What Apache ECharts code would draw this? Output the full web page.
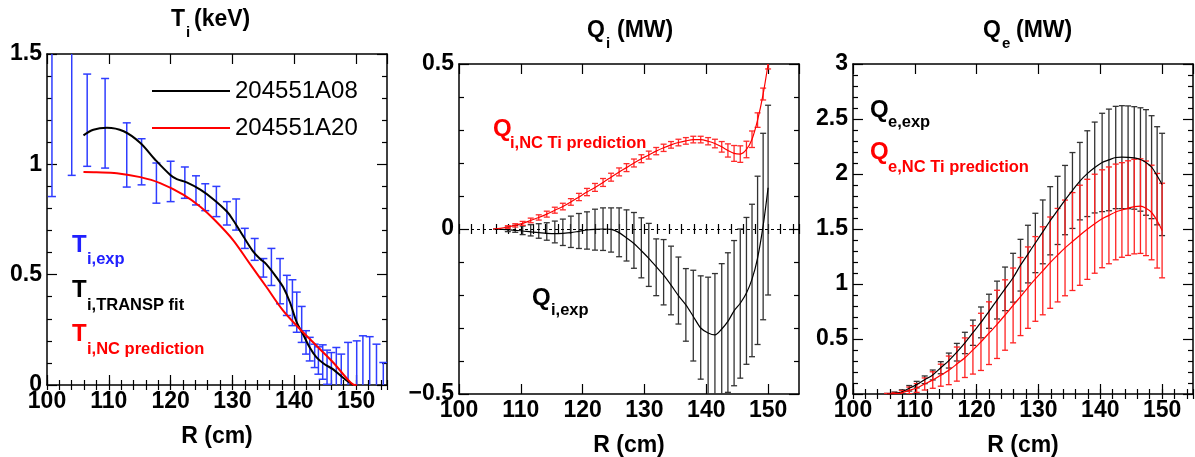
<!DOCTYPE html>
<html><head><meta charset="utf-8">
<script src="https://cdn.jsdelivr.net/npm/echarts@6/dist/echarts.min.js"></script>
<style>html,body{margin:0;padding:0;background:#fff}#c{width:1195px;height:457px}</style>
</head><body><div id="c"></div>
<script>
// ---------- Panel 1: T_i (keV) ----------
const tiExpR  = [100.8,104.0,106.5,109.4,112.9,115.3,117.7,120.0,122.3,124.1,125.6,127.4,129.1,130.6,132.0,133.6,135.0,136.3,137.7,138.8,139.7,140.4,141.2,141.9,142.5,143.3,143.9,144.6,145.3,146.0,146.8,147.6,148.7,150.1,151.1,152.2,153.3,154.4];
const tiExpHi = [2.0,2.0,1.409,1.389,1.188,1.116,1.006,1.014,0.988,0.948,0.912,0.900,0.831,0.843,0.710,0.664,0.573,0.619,0.573,0.497,0.477,0.421,0.356,0.246,0.216,0.185,0.173,0.182,0.158,0.147,0.170,0.140,0.193,0.200,0.223,0.219,0.185,0.102];
const tiExpLo = [0.854,0.950,0.991,0.983,0.897,0.907,0.824,0.831,0.846,0.816,0.790,0.763,0.725,0.702,0.619,0.565,0.489,0.451,0.368,0.315,0.269,0.239,0.193,0.140,0.109,0.079,0.049,0.026,0.003,-0.05,-0.03,-0.1,-0.1,-0.15,-0.1,-0.1,-0.1,-0.1];
const tiFitR = [105.9,107.5,109.7,112.4,115.1,117.5,119.9,121.0,122.6,124.8,126.9,129.1,130.1,131.8,133.4,134.4,135.5,137.1,138.2,139.3,140.4,141.4,142.5,143.6,144.9,146.3,147.9,149.5];
const tiFit  = [1.131,1.157,1.166,1.150,1.097,1.021,0.953,0.933,0.918,0.885,0.842,0.786,0.748,0.672,0.603,0.573,0.547,0.489,0.444,0.375,0.284,0.231,0.170,0.125,0.094,0.071,0.033,0.0];
const tiNcR  = [105.9,108.0,111.3,115.1,118.3,122.1,124.8,127.4,130.1,132.8,135.5,138.2,140.9,143.6,146.3,148.4,149.5,150.1];
const tiNc   = [0.965,0.964,0.960,0.942,0.915,0.862,0.808,0.740,0.657,0.550,0.444,0.337,0.254,0.178,0.102,0.033,0.003,0.0];

// ---------- Shared radial grid of panels 2 and 3 ----------
const rGrid = [105.5,106.7,107.9,109.1,110.3,111.6,112.9,114.2,115.5,116.8,118.1,119.4,120.7,122.0,123.3,124.6,125.9,127.1,128.3,129.5,130.7,131.9,133.1,134.3,135.5,136.7,137.9,139.1,140.3,141.4,142.5,143.5,144.5,145.5,146.5,147.4,148.3,149.2,150.0];

// ---------- Panel 2: Q_i (MW) ----------
const qiNC    = [0.000,0.002,0.006,0.011,0.017,0.026,0.035,0.045,0.057,0.068,0.082,0.097,0.112,0.126,0.141,0.157,0.173,0.186,0.200,0.213,0.224,0.236,0.246,0.255,0.262,0.267,0.271,0.271,0.266,0.259,0.249,0.238,0.229,0.227,0.241,0.272,0.330,0.409,0.500];
const qiNCErr = [null,null,0.004,0.005,0.006,0.007,0.008,0.009,0.009,0.010,0.010,0.011,0.011,0.012,0.012,0.012,0.012,0.012,0.012,0.012,0.012,0.011,0.011,0.010,0.010,0.010,0.010,0.010,0.011,0.013,0.016,0.020,0.024,0.025,0.025,0.025,0.022,0.018,0.015];
const qiExp   = [0.000,-0.001,-0.002,-0.004,-0.006,-0.009,-0.011,-0.013,-0.014,-0.013,-0.011,-0.007,-0.003,-0.001,0.000,-0.001,-0.011,-0.027,-0.044,-0.066,-0.089,-0.114,-0.140,-0.170,-0.202,-0.230,-0.265,-0.300,-0.315,-0.321,-0.303,-0.280,-0.248,-0.225,-0.194,-0.152,-0.088,0.010,0.125];
const qiExpHi = [null,null,0.006,0.011,0.009,0.013,0.016,0.019,0.024,0.030,0.039,0.047,0.052,0.060,0.064,0.064,0.064,0.058,0.050,0.034,0.017,-0.030,-0.032,-0.052,-0.085,-0.120,-0.125,-0.142,-0.146,-0.135,-0.105,-0.072,-0.035,0.000,0.035,0.075,0.160,0.290,0.375];
const qiExpLo = [null,null,-0.008,-0.010,-0.017,-0.021,-0.028,-0.034,-0.042,-0.050,-0.056,-0.059,-0.061,-0.064,-0.065,-0.070,-0.084,-0.097,-0.119,-0.148,-0.174,-0.202,-0.230,-0.260,-0.288,-0.340,-0.400,-0.455,-0.530,-0.550,-0.530,-0.495,-0.475,-0.452,-0.410,-0.387,-0.350,-0.275,-0.200];

// ---------- Panel 3: Q_e (MW) ----------
const qeExp    = [0.000,0.006,0.018,0.052,0.085,0.129,0.173,0.239,0.304,0.380,0.464,0.557,0.651,0.752,0.854,0.956,1.057,1.171,1.272,1.373,1.474,1.575,1.669,1.763,1.850,1.935,2.003,2.059,2.105,2.128,2.150,2.153,2.152,2.146,2.132,2.105,2.062,1.984,1.905];
const qeExpErr = [0.005,0.012,0.020,0.025,0.030,0.035,0.045,0.055,0.068,0.080,0.097,0.115,0.140,0.155,0.172,0.198,0.222,0.235,0.262,0.270,0.290,0.310,0.310,0.315,0.345,0.352,0.390,0.413,0.447,0.462,0.465,0.468,0.467,0.466,0.470,0.480,0.468,0.446,0.465];
const qeNC     = [0.000,0.003,0.011,0.033,0.055,0.091,0.127,0.171,0.215,0.272,0.330,0.401,0.474,0.553,0.633,0.718,0.805,0.886,0.967,1.046,1.120,1.194,1.262,1.328,1.386,1.443,1.497,1.548,1.593,1.624,1.655,1.673,1.690,1.704,1.708,1.688,1.650,1.575,1.486];
const qeNCErr  = [0.005,0.010,0.020,0.030,0.040,0.055,0.075,0.100,0.130,0.155,0.180,0.220,0.260,0.285,0.310,0.320,0.340,0.355,0.370,0.385,0.400,0.415,0.425,0.435,0.445,0.455,0.455,0.450,0.445,0.440,0.435,0.430,0.430,0.430,0.430,0.430,0.430,0.430,0.430];

// ---------- Axis settings ----------
const xRange = [100, 155], xMajor = 10, xMinor = 2;
const yRanges = [[0, 1.5], [-0.5, 0.5], [0, 3]];
const yMajor = 0.5;
const legendNames = ['204551A08', '204551A20'];

const FONT = "'Liberation Sans', Arial, Helvetica, sans-serif";
const grids = [
  {left: 47, top: 54, width: 340, height: 331},
  {left: 459, top: 64, width: 340, height: 330},
  {left: 853, top: 64, width: 340, height: 330}
];

const xAxes = [], yAxes = [];
grids.forEach((g, k) => {
  const lineSt = {color: '#000', width: 1.5};
  const tickSt = {color: '#000', width: 1.2};
  const base = {gridIndex: k, type: 'value', min: xRange[0], max: xRange[1], splitLine: {show: false}};
  xAxes.push(Object.assign({}, base, {
    position: 'bottom', interval: xMajor,
    axisLine: {show: true, onZero: false, lineStyle: lineSt},
    axisTick: {show: true, inside: true, length: 10, lineStyle: tickSt},
    axisLabel: {show: true, margin: 5, color: '#000', fontSize: 23, fontWeight: 'bold', fontFamily: FONT, showMaxLabel: false},
    name: 'R (cm)', nameLocation: 'middle', nameGap: 40,
    nameTextStyle: {color: '#000', fontSize: 23, fontWeight: 'bold', fontFamily: FONT}
  }));
  xAxes.push(Object.assign({}, base, {
    position: 'bottom', interval: xMinor,
    axisLine: {show: false}, axisLabel: {show: false},
    axisTick: {show: true, inside: true, length: 5, lineStyle: tickSt}
  }));
  xAxes.push(Object.assign({}, base, {
    position: 'top', interval: xMajor,
    axisLine: {show: true, onZero: false, lineStyle: lineSt}, axisLabel: {show: false},
    axisTick: {show: true, inside: true, length: 10, lineStyle: tickSt}
  }));
  xAxes.push(Object.assign({}, base, {
    position: 'top', interval: xMinor,
    axisLine: {show: false}, axisLabel: {show: false},
    axisTick: {show: true, inside: true, length: 5, lineStyle: tickSt}
  }));
  const yb = {gridIndex: k, type: 'value', min: yRanges[k][0], max: yRanges[k][1], interval: yMajor, splitLine: {show: false},
    axisLine: {show: true, onZero: false, lineStyle: lineSt},
    axisTick: {show: true, inside: true, length: 10, lineStyle: tickSt},
    minorTick: {show: true, splitNumber: 5, length: 5, lineStyle: tickSt}};
  yAxes.push(Object.assign({}, yb, {
    position: 'left',
    axisLabel: {show: true, margin: 5, color: '#000', fontSize: 23, fontWeight: 'bold', fontFamily: FONT,
      formatter: v => (v < 0 ? '\u2212' : '') + Math.abs(v)}
  }));
  yAxes.push(Object.assign({}, yb, {position: 'right', axisLabel: {show: false}}));
});

function errBar(cap, color, lw) {
  return function (params, api) {
    const x = api.value(0);
    const a = api.coord([x, api.value(1)]);
    const b = api.coord([x, api.value(2)]);
    const st = {stroke: color, lineWidth: lw};
    return {type: 'group', children: [
      {type: 'line', shape: {x1: a[0], y1: a[1], x2: b[0], y2: b[1]}, style: st},
      {type: 'line', shape: {x1: a[0] - cap, y1: a[1], x2: a[0] + cap, y2: a[1]}, style: st},
      {type: 'line', shape: {x1: b[0] - cap, y1: b[1], x2: b[0] + cap, y2: b[1]}, style: st}
    ]};
  };
}
function barsLoHi(xs, lo, hi) {
  const out = [];
  xs.forEach((x, i) => { if (lo[i] != null && hi[i] != null) out.push([x, lo[i], hi[i]]); });
  return out;
}
function barsErr(xs, c, e) {
  const out = [];
  xs.forEach((x, i) => { if (e[i] != null) out.push([x, c[i] - e[i], c[i] + e[i]]); });
  return out;
}
function pts(xs, ys) { return xs.map((x, i) => [x, ys[i]]); }
function errSeries(k, data, cap, color, lw, name) {
  return {name: name, type: 'custom', xAxisIndex: 4 * k, yAxisIndex: 2 * k, clip: true,
    renderItem: errBar(cap, color, lw), encode: {x: 0, y: [1, 2]}, data: data, silent: true, z: 2};
}
function lineSeries(k, name, data, color, w, smooth) {
  return {name: name, type: 'line', xAxisIndex: 4 * k, yAxisIndex: 2 * k, data: data, smooth: smooth,
    symbol: 'none', showSymbol: false, clip: true, lineStyle: {color: color, width: w}, itemStyle: {color: color}, z: 3, silent: true};
}

const series = [
  errSeries(0, barsLoHi(tiExpR, tiExpLo, tiExpHi), 4, '#2f3dff', 1.5, 'tiExp'),
  lineSeries(0, legendNames[0], pts(tiFitR, tiFit), '#000', 2, 0.35),
  lineSeries(0, legendNames[1], pts(tiNcR, tiNc), '#ff0000', 2, 0.35),

  errSeries(1, barsLoHi(rGrid, qiExpLo, qiExpHi), 3, '#333', 1.3, 'qiExpErr'),
  lineSeries(1, 'qiExp', pts(rGrid, qiExp), '#000', 1.2, 0.3),
  errSeries(1, barsErr(rGrid, qiNC, qiNCErr), 3, '#ff2a2a', 1.3, 'qiNCErr'),
  Object.assign(lineSeries(1, 'qiNC', pts(rGrid, qiNC), '#ff0000', 1.2, 0.3), {
    markLine: {silent: true, symbol: 'none', label: {show: false}, animation: false,
      lineStyle: {color: '#000', width: 1, type: [3, 3]}, data: [{yAxis: 0}]}
  }),

  errSeries(2, barsErr(rGrid, qeExp, qeExpErr), 3, '#333', 1.3, 'qeExpErr'),
  lineSeries(2, 'qeExp', pts(rGrid, qeExp), '#000', 1.2, 0.3),
  errSeries(2, barsErr(rGrid, qeNC, qeNCErr), 3, '#ff2222', 1.3, 'qeNCErr'),
  lineSeries(2, 'qeNC', pts(rGrid, qeNC), '#ff0000', 1.2, 0.3)
];

function txt(x, y, s, size, color) {
  return {type: 'text', x: x, y: y, silent: true, z: 10,
    style: {text: s, fill: color, font: 'bold ' + size + 'px ' + FONT, align: 'left', verticalAlign: 'middle', textAlign: 'left', textVerticalAlign: 'middle'}};
}
const BLUE = '#2020ff', RED = '#ff0000', BLACK = '#000';
const graphics = [
  // titles
  txt(171, 20, 'T', 23, BLACK), txt(186, 33, 'i', 15, BLACK), txt(194, 20, '(keV)', 23, BLACK),
  txt(587, 31, 'Q', 23, BLACK), txt(606, 44, 'i', 15, BLACK), txt(617, 31, '(MW)', 23, BLACK),
  txt(983, 31, 'Q', 23, BLACK), txt(1002, 44, 'e', 15, BLACK), txt(1016, 31, '(MW)', 23, BLACK),
  // panel 1 labels
  txt(72, 245, 'T', 24, BLUE), txt(87, 259.5, 'i,exp', 16.5, BLUE),
  txt(72, 290, 'T', 24, BLACK), txt(87, 305, 'i,TRANSP fit', 16.5, BLACK),
  txt(72, 334.5, 'T', 24, RED), txt(87, 349.5, 'i,NC prediction', 16.5, RED),
  // panel 2 labels
  txt(493, 129.5, 'Q', 24, RED), txt(510, 143.5, 'i,NC Ti prediction', 16.5, RED),
  txt(532, 298.5, 'Q', 24, BLACK), txt(551, 310.5, 'i,exp', 16.5, BLACK),
  // panel 3 labels
  txt(870, 110, 'Q', 24, BLACK), txt(888, 122.5, 'e,exp', 16.5, BLACK),
  txt(870, 152, 'Q', 24, RED), txt(888, 167, 'e,NC Ti prediction', 16.5, RED)
];

const chart = echarts.init(document.getElementById('c'), null, {renderer: 'canvas'});
chart.setOption({
  animation: false,
  backgroundColor: '#fff',
  textStyle: {fontFamily: FONT},
  grid: grids.map(g => Object.assign({outerBoundsMode: 'none', containLabel: false}, g)),
  xAxis: xAxes,
  yAxis: yAxes,
  legend: {data: legendNames.map(n => ({name: n, icon: 'rect'})), left: 147, top: 74, orient: 'vertical',
    itemWidth: 78, itemHeight: 2, itemGap: 13, selectedMode: false,
    textStyle: {fontSize: 24, color: '#000', fontFamily: FONT}},
  graphic: graphics,
  series: series
});
</script></body></html>
